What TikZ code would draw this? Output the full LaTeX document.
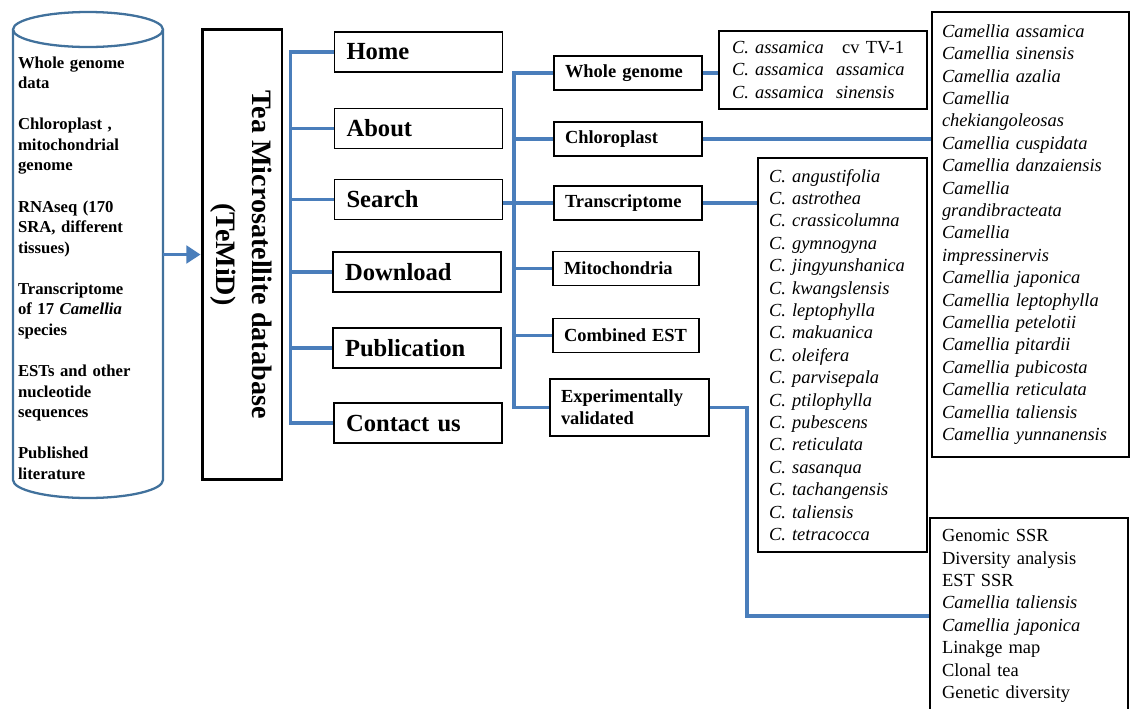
\documentclass[tikz,border=0pt]{standalone}
\usepackage{fontspec}
\setmainfont{Liberation Serif}
\usetikzlibrary{arrows.meta}
\definecolor{linkblue}{HTML}{4A7EBB}
\definecolor{drumblue}{HTML}{41719C}
\tikzset{
  navbox/.style={draw, line width=1.1pt, minimum height=0.8cm, text width=2.88cm, inner xsep=0.24cm, align=left, font=\fontsize{14}{16}\selectfont\bfseries},
  subbox/.style={draw, line width=1.1pt, minimum height=0.68cm, text width=#1, inner xsep=0.22cm, align=left, font=\fontsize{10.5}{12.6}\selectfont\bfseries},
  listbox/.style={draw, line width=1.1pt, align=left, font=\fontsize{10.5}{12.75}\selectfont},
  link/.style={draw=linkblue, line width=1.8pt},
}
\begin{document}
\begin{tikzpicture}[x=0.02cm, y=-0.02cm]
    \useasboundingbox (0,0) rectangle (1130,708);
    % data sources
    \draw [drumblue, line width=1.3pt] (88,29.5) ellipse [x radius=1.5cm, y radius=0.35cm];
    \draw [drumblue, line width=1.3pt] (13,29.5) -- (13,480) arc [start angle=180, end angle=360, x radius=1.5cm, y radius=0.36cm] -- (163,29.5);
    \node [font=\fontsize{9.5}{11.7}\selectfont\bfseries, text width=2.8cm, inner xsep=0.1cm, align=left] (srcs) at (88,268) {Whole genome\\data\\[11.7pt] Chloroplast ,\\mitochondrial\\genome\\[11.7pt] RNAseq (170\\SRA, different\\tissues)\\[11.7pt] Transcriptome\\of 17 \textit{Camellia}\\species\\[11.7pt] ESTs and other\\nucleotide\\sequences\\[11.7pt] Published\\literature};
    % database
    \node [draw, line width=1.7pt, minimum width=1.6cm, minimum height=9.02cm, inner sep=0pt, font=\fontsize{16}{20.4}\selectfont\bfseries] (temid) at (242,254.5) {\rotatebox{-90}{\begin{tabular}{@{}c@{}}Tea Microsatellite database\\(TeMiD)\end{tabular}}};
    \draw [link, -{Triangle[length=8pt,width=10pt]}] (srcs.east |- temid.west) -- (temid.west);
    % menu
    \node [navbox] (home) at (418.5,52) {Home};
    \node [navbox] (about) at (418.5,128.5) {About};
    \node [navbox] (search) at (418.5,199.5) {Search};
    \node [navbox] (download) at (417,272) {Download};
    \node [navbox] (publication) at (417,348) {Publication};
    \node [navbox] (contact) at (418,423) {Contact us};
    \draw [link] (home.west) -- ++(-43,0) coordinate (t1top) |- (contact.west);
    \foreach \n in {about,search,download,publication}
        \draw [link] (\n.west) -- (\n.west -| t1top);
    % search options
    \node [subbox=2.52cm] (wgenome) at (628,73) {Whole genome};
    \node [subbox=2.52cm] (chloro) at (628,139) {Chloroplast};
    \node [subbox=2.52cm] (transcr) at (628,203) {Transcriptome};
    \node [subbox=2.48cm] (mito) at (626,268.5) {Mitochondria};
    \node [subbox=2.48cm] (combined) at (626,335.5) {Combined EST};
    \node [subbox=2.74cm, minimum height=1.14cm] (expval) at (629.5,407.5) {Experimentally\\validated};
    \draw [link] (search.east |- transcr.west) -- (transcr.west);
    \draw [link] (wgenome.west) -- ++(-39,0) coordinate (t2top) |- (expval.west);
    \foreach \n in {chloro,mito,combined}
        \draw [link] (\n.west) -- (\n.west -| t2top);
    % species lists
    \node [listbox, text width=3.64cm, inner xsep=0.26cm, minimum height=1.56cm] (wgsp) at (823,70) {\textit{C. assamica}\ \ \ cv TV-1\\\textit{C. assamica\ \ assamica}\\\textit{C. assamica\ \ sinensis}};
    \node [listbox, text width=3.54cm, inner xsep=0.2cm, minimum height=8.9cm, font=\fontsize{10.5}{12.75}\selectfont\itshape] (chlorosp) at (1030.5,234.5) {Camellia assamica\\Camellia sinensis\\Camellia azalia\\Camellia\\chekiangoleosas\\Camellia cuspidata\\Camellia danzaiensis\\Camellia\\grandibracteata\\Camellia\\impressinervis\\Camellia japonica\\Camellia leptophylla\\Camellia petelotii\\Camellia pitardii\\Camellia pubicosta\\Camellia reticulata\\Camellia taliensis\\Camellia yunnanensis};
    \node [listbox, text width=2.94cm, inner xsep=0.22cm, minimum height=7.88cm, font=\fontsize{10.5}{12.75}\selectfont\itshape] (transsp) at (842.5,355) {C. angustifolia\\C. astrothea\\C. crassicolumna\\C. gymnogyna\\C. jingyunshanica\\C. kwangslensis\\C. leptophylla\\C. makuanica\\C. oleifera\\C. parvisepala\\C. ptilophylla\\C. pubescens\\C. reticulata\\C. sasanqua\\C. tachangensis\\C. taliensis\\C. tetracocca};
    \node [listbox, text width=3.48cm, inner xsep=0.24cm, minimum height=3.92cm, anchor=north] (expsp) at (1029,517) {Genomic SSR\\Diversity analysis\\EST SSR\\\textit{Camellia taliensis}\\\textit{Camellia japonica}\\Linakge map\\Clonal tea\\Genetic diversity};
    \draw [link] (wgenome.east) -- (wgsp.west |- wgenome.east);
    \draw [link] (chloro.east) -- (chlorosp.west |- chloro.east);
    \draw [link] (transcr.east) -- (transsp.west |- transcr.east);
    \draw [link] (expval.east) -- ++(37,0) |- (expsp.west);
\end{tikzpicture}
\end{document}
